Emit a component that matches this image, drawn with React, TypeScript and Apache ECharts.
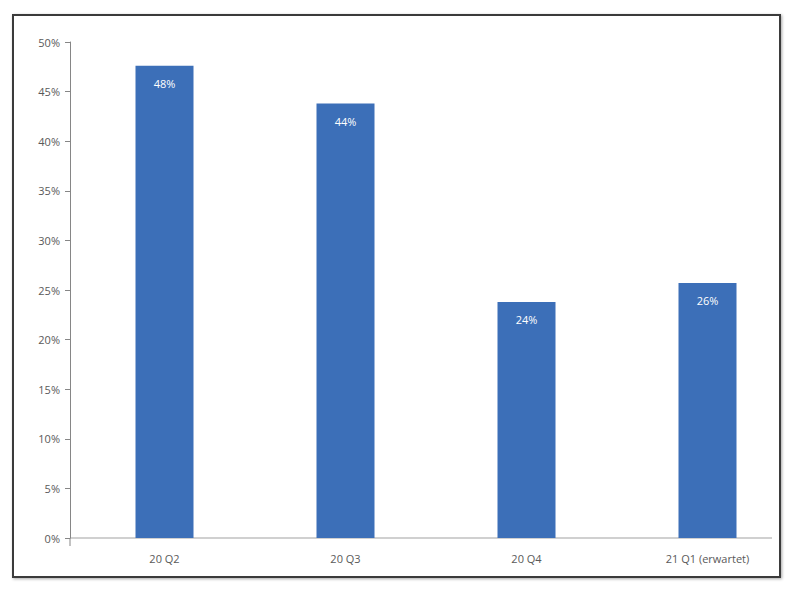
import React, { useEffect, useRef } from "react";
import * as echarts from "echarts";

const categories = ["20 Q2", "20 Q3", "20 Q4", "21 Q1 (erwartet)"];
const values = [0.476, 0.438, 0.238, 0.257];
const yMin = 0;
const yMax = 0.5;
const yInterval = 0.05;

export default function App() {
  const ref = useRef<HTMLDivElement>(null);
  useEffect(() => {
    document.body.style.margin = "0";
    if (!ref.current) return;
    const chart = echarts.init(ref.current, null, { renderer: "svg" });
    const font = "'Open Sans', 'Liberation Sans', sans-serif";
    chart.setOption({
      animation: false,
      backgroundColor: "#ffffff",
      grid: { left: 74, top: 42, width: 724, bottom: 59, containLabel: false },
      xAxis: {
        type: "category",
        data: categories,
        axisLine: { show: false },
        axisTick: { show: false },
        axisLabel: { color: "#595959", fontSize: 11, fontFamily: font, margin: 15 },
      },
      yAxis: {
        type: "value",
        min: yMin,
        max: yMax,
        interval: yInterval,
        offset: 4,
        axisLine: { show: true, lineStyle: { color: "#868686" } },
        axisTick: { show: true, length: 5, lineStyle: { color: "#868686" } },
        splitLine: { show: false },
        axisLabel: {
          color: "#595959",
          fontSize: 11,
          fontFamily: font,
          margin: 10,
          formatter: (v: number) => Math.round(v * 100) + "%",
        },
      },
      graphic: [
        {
          type: "rect",
          z: -10,
          shape: { x: 13, y: 15, width: 767, height: 562 },
          style: { fill: "#ffffff", stroke: "#3a3a3a", lineWidth: 2, shadowColor: "rgba(0,0,0,0.35)", shadowBlur: 3, shadowOffsetX: 1, shadowOffsetY: 1 },
        },
        {
          type: "line",
          shape: { x1: 70, y1: 538, x2: 772, y2: 538 },
          style: { stroke: "#d0d0d0", lineWidth: 2 },
        },
        {
          type: "line",
          shape: { x1: 70, y1: 538, x2: 70, y2: 546 },
          style: { stroke: "#868686", lineWidth: 1 },
        },
      ],
      series: [
        {
          type: "bar",
          data: values,
          barWidth: 58,
          itemStyle: { color: "#3c6fb8" },
          label: {
            show: true,
            position: "insideTop",
            distance: 12,
            color: "#ffffff",
            fontSize: 11,
            fontFamily: font,
            formatter: (p: any) => Math.round(p.value * 100) + "%",
          },
        },
      ],
    });
    return () => chart.dispose();
  }, []);
  return <div ref={ref} style={{ width: 800, height: 597 }} />;
}
